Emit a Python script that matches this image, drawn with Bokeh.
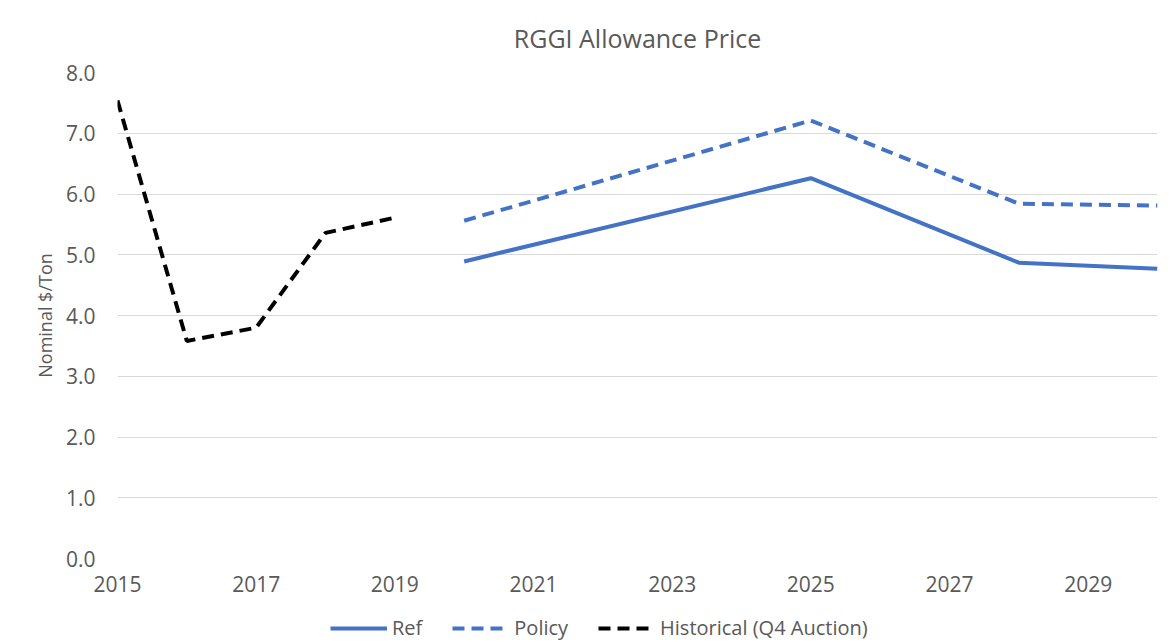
from bokeh.plotting import figure
from bokeh.layouts import column
from bokeh.models import FixedTicker, NumeralTickFormatter, Legend, LegendItem, Range1d
from bokeh.embed import file_html
from bokeh.resources import INLINE

# Data
hist_years = [2015, 2016, 2017, 2018, 2019]
hist_price = [7.54, 3.58, 3.80, 5.36, 5.61]

ref_years = [2020, 2025, 2028, 2030]
ref_price = [4.89, 6.26, 4.87, 4.77]

policy_years = [2020, 2025, 2028, 2030]
policy_price = [5.56, 7.21, 5.84, 5.81]

x_ticks = [2015, 2017, 2019, 2021, 2023, 2025, 2027, 2029]
y_ticks = [0, 1, 2, 3, 4, 5, 6, 7, 8]

series_labels = ["Ref", "Policy", "Historical (Q4 Auction)"]

BLUE = "#4472C4"
GREY = "#595959"
FONT = "Open Sans"
DASH = "12 7"

p = figure(frame_width=1040, frame_height=486, output_backend="svg", toolbar_location=None,
           x_range=Range1d(2015, 2030), y_range=Range1d(0, 8),
           title="RGGI Allowance Price",
           min_border_left=117, min_border_right=15, min_border_top=72, min_border_bottom=50)

p.background_fill_color = "white"
p.border_fill_color = "white"
p.outline_line_color = None

p.title.align = "center"
p.title.text_font = FONT
p.title.text_font_size = "25px"
p.title.text_font_style = "normal"
p.title.text_color = GREY
p.title.standoff = 35

p.line(ref_years, ref_price, line_color=BLUE, line_width=4)
p.line(policy_years, policy_price, line_color=BLUE, line_width=4, line_dash=DASH)
p.line(hist_years, hist_price, line_color="black", line_width=4, line_dash=DASH)

p.xaxis.ticker = FixedTicker(ticks=x_ticks)
p.yaxis.ticker = FixedTicker(ticks=y_ticks)
p.yaxis.formatter = NumeralTickFormatter(format="0.0")

for ax in (p.xaxis[0], p.yaxis[0]):
    ax.axis_line_color = None
    ax.major_tick_line_color = None
    ax.minor_tick_line_color = None
    ax.major_label_text_font = FONT
    ax.major_label_text_font_size = "21px"
    ax.major_label_text_color = GREY

p.xaxis.major_label_standoff = 11

p.yaxis.major_label_standoff = 16
p.yaxis.axis_label = "Nominal $/Ton"
p.yaxis.axis_label_text_font = FONT
p.yaxis.axis_label_text_font_size = "18px"
p.yaxis.axis_label_text_font_style = "normal"
p.yaxis.axis_label_text_color = GREY
p.yaxis.axis_label_standoff = 6

p.xgrid.grid_line_color = None
p.ygrid.grid_line_color = "#d9d9d9"
p.ygrid.grid_line_width = 1

# Legend strip below the chart: a legend-only figure whose key lines lie outside its view
pl = figure(width=1172, height=34, output_backend="svg", toolbar_location=None,
            x_axis_location=None, y_axis_location=None,
            x_range=Range1d(0, 1), y_range=Range1d(0, 1),
            min_border_left=0, min_border_right=0, min_border_top=0, min_border_bottom=0)
pl.outline_line_color = None
pl.xgrid.visible = False
pl.ygrid.visible = False
pl.border_fill_color = "white"
pl.background_fill_color = "white"

k_ref = pl.line(ref_years, ref_price, line_color=BLUE, line_width=4)
k_pol = pl.line(policy_years, policy_price, line_color=BLUE, line_width=4, line_dash=DASH)
k_hist = pl.line(hist_years, hist_price, line_color="black", line_width=4, line_dash=DASH)

legend = Legend(items=[
    LegendItem(label=series_labels[0], renderers=[k_ref]),
    LegendItem(label=series_labels[1], renderers=[k_pol]),
    LegendItem(label=series_labels[2], renderers=[k_hist]),
], orientation="horizontal", location=(213, 1))
legend.label_text_font = FONT
legend.label_text_font_size = "20px"
legend.label_text_line_height = 1.0
legend.label_height = 20
legend.glyph_height = 20
legend.label_text_color = GREY
legend.border_line_color = None
legend.background_fill_alpha = 0
legend.glyph_width = 57
legend.spacing = 30
legend.label_standoff = 5
legend.padding = 0
legend.margin = 0
pl.add_layout(legend, "center")

layout = column(p, pl, spacing=0)
open("out.html", "w").write(file_html(layout, INLINE))
